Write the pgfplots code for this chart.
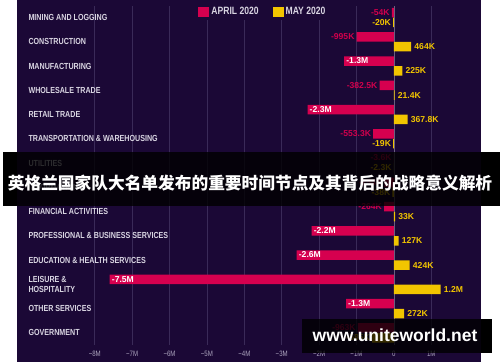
\documentclass[border=0pt]{standalone}
\usepackage{pgfplots}
\pgfplotsset{compat=1.18}
\usepackage{fontspec}
\setmainfont{Liberation Sans}
\newfontfamily\condb{Liberation Sans}[FakeStretch=0.81]
\newfontfamily\condr{Liberation Sans}[FakeStretch=0.78]
\newfontfamily\cjk{Noto Sans CJK SC}
\definecolor{bg}{HTML}{1B0836}
\definecolor{apr}{HTML}{D6004F}
\definecolor{may}{HTML}{F2C500}
\definecolor{gridc}{HTML}{3A2A58}
\definecolor{zeroc}{HTML}{6A5F80}
\definecolor{lab}{HTML}{D9D5E2}
\definecolor{tickc}{HTML}{ABA3BD}
\definecolor{aprtxt}{HTML}{D0004C}
\begin{document}
\begin{tikzpicture}[x=1pt,y=1pt]
\useasboundingbox (0,0) rectangle (500,362);
\fill[white] (0,0) rectangle (500,362);
\fill[bg] (17,0) rectangle (481,362);
\begin{axis}[at={(17pt,17pt)}, anchor=south west,
  width=464pt, height=339pt, scale only axis,
  xmin=-10.08, xmax=2.33, ymin=-0.474, ymax=13.505, y dir=reverse,
  axis line style={draw=none},
  xtick={-8,-7,-6,-5,-4,-3,-2,-1,0,1},
  xticklabels={−8M,−7M,−6M,−5M,−4M,−3M,−2M,−1M,0,1M},
  xticklabel style={font=\condr\fontsize{7.8}{8}\selectfont, text=tickc, yshift=-3pt},
  major tick length=0pt,
  xmajorgrids, grid style={gridc, line width=0.6pt},
  ytick={0,...,13},
  yticklabels={MINING AND LOGGING, CONSTRUCTION, MANUFACTURING, WHOLESALE TRADE, RETAIL TRADE, TRANSPORTATION \& WAREHOUSING, UTILITIES, INFORMATION, FINANCIAL ACTIVITIES, PROFESSIONAL \& BUSINESS SERVICES, EDUCATION \& HEALTH SERVICES, {LEISURE \&\\HOSPITALITY}, OTHER SERVICES, GOVERNMENT},
  yticklabel style={anchor=west, xshift=8pt, align=left, font=\condb\bfseries\fontsize{8.8}{10.5}\selectfont, text=lab},
  legend columns=2,
  legend style={at={(axis description cs:0.384,1.0)}, anchor=north west, yshift=3pt, fill=bg, draw=none,
    font=\condb\bfseries\fontsize{10.6}{12}\selectfont, text=lab,
    /tikz/every even column/.append style={column sep=12pt}},
  legend image code/.code={\fill[#1] (0pt,-5pt) rectangle (11pt,5pt);},
  clip=false,
]
\draw[zeroc, line width=0.6pt] (axis cs:0,-0.474) -- (axis cs:0,13.505);
% April 2020 (millions)
\addplot[xbar, bar width=9.5pt, bar shift=0pt, fill=apr, draw=none] table {
x y
-0.054 -0.206
-0.995 0.794
-1.33 1.794
-0.3825 2.794
-2.31 3.794
-0.5533 4.794
-0.0036 5.794
-0.254 6.794
-0.264 7.794
-2.2 8.794
-2.6 9.794
-7.6 10.794
-1.28 11.794
-0.963 12.794
};
\addlegendentry{APRIL 2020}
% May 2020 (millions)
\addplot[xbar, bar width=9.5pt, bar shift=0pt, fill=may, draw=none] table {
x y
-0.020 0.206
0.464 1.206
0.225 2.206
0.0214 3.206
0.3678 4.206
-0.019 5.206
-0.0023 6.206
-0.038 7.206
0.033 8.206
0.127 9.206
0.424 10.206
1.25 11.206
0.272 12.206
-0.585 13.206
};
\addlegendentry{MAY 2020}
% labels: April outside
\addplot[draw=none, forget plot, nodes near coords, point meta=explicit symbolic,
  nodes near coords style={anchor=east, xshift=-1pt, inner sep=1pt, text=aprtxt, font=\bfseries\fontsize{8.6}{9}\selectfont}]
  table[meta=lab] {
x y lab
-0.054 -0.206 -54K
-0.995 0.794 -995K
-0.3825 2.794 -382.5K
-0.5533 4.794 -553.3K
-0.0036 5.794 -3.6K
-0.254 6.794 -254K
-0.264 7.794 -264K
-0.963 12.794 -963K
};
% April inside
\addplot[draw=none, forget plot, nodes near coords, point meta=explicit symbolic,
  nodes near coords style={anchor=west, xshift=1pt, inner sep=1pt, text=white, font=\bfseries\fontsize{8.6}{9}\selectfont}]
  table[meta=lab] {
x y lab
-1.33 1.794 -1.3M
-2.31 3.794 -2.3M
-2.2 8.794 -2.2M
-2.6 9.794 -2.6M
-7.6 10.794 -7.5M
-1.28 11.794 -1.3M
};
% May positive
\addplot[draw=none, forget plot, nodes near coords, point meta=explicit symbolic,
  nodes near coords style={anchor=west, xshift=2pt, inner sep=1pt, text=may, font=\bfseries\fontsize{8.6}{9}\selectfont}]
  table[meta=lab] {
x y lab
0.464 1.206 464K
0.225 2.206 225K
0.0214 3.206 21.4K
0.3678 4.206 367.8K
0.033 8.206 33K
0.127 9.206 127K
0.424 10.206 424K
1.25 11.206 1.2M
0.272 12.206 272K
};
% May negative
\addplot[draw=none, forget plot, nodes near coords, point meta=explicit symbolic,
  nodes near coords style={anchor=east, xshift=-1pt, inner sep=1pt, text=may, font=\bfseries\fontsize{8.6}{9}\selectfont}]
  table[meta=lab] {
x y lab
-0.020 0.206 -20K
-0.019 5.206 -19K
-0.0023 6.206 -2.3K
-0.038 7.206 -38K
-0.585 13.206 -585K
};
\end{axis}
% overlay banner
\fill[black, opacity=0.8] (17,156) rectangle (481,210);
\fill[black] (3,156) rectangle (17,210);
\fill[black] (481,156) rectangle (500,210);
\node[text=white, font=\cjk\bfseries\fontsize{16.7}{18}\selectfont, inner sep=0pt] at (250,179) {英格兰国家队大名单发布的重要时间节点及其背后的战略意义解析};
% watermark
\fill[black, opacity=0.78] (302,9) rectangle (481,43);
\fill[black] (481,9) rectangle (492,43);
\node[text=white, font=\bfseries\fontsize{17.5}{19}\selectfont, inner sep=0pt, anchor=base] at (395,20.3) {www.uniteworld.net};
\end{tikzpicture}
\end{document}
